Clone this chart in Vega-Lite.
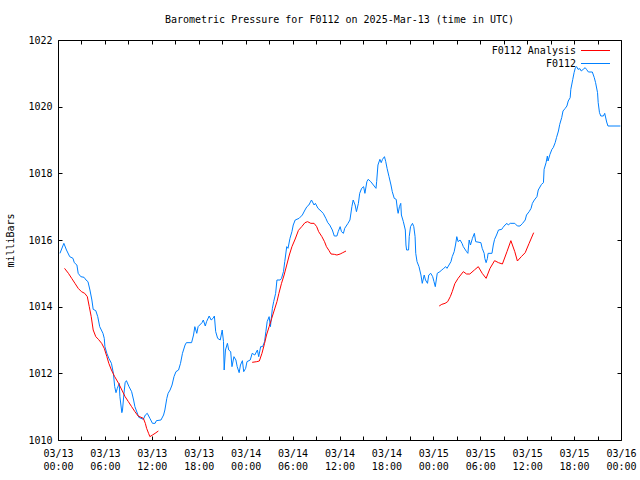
{
  "$schema": "https://vega.github.io/schema/vega-lite/v6.json",
  "width": 563,
  "height": 400,
  "autosize": {"type": "none"},
  "padding": {"left": 58, "top": 40, "right": 19, "bottom": 40},
  "background": "white",
  "title": {"text": "Barometric Pressure for F0112 on 2025-Mar-13 (time in UTC)", "font": "DejaVu Sans Mono", "fontSize": 10, "fontWeight": "normal", "color": "black", "anchor": "middle", "offset": 10},
  "datasets": {
    "station": [
      {"t":"2025-03-13T00:15Z","p":1015.60,"s":"F0112"},{"t":"2025-03-13T00:45Z","p":1015.90,"s":"F0112"},{"t":"2025-03-13T01:05Z","p":1015.70,"s":"F0112"},{"t":"2025-03-13T01:30Z","p":1015.50,"s":"F0112"},{"t":"2025-03-13T01:55Z","p":1015.45,"s":"F0112"},{"t":"2025-03-13T02:05Z","p":1015.32,"s":"F0112"},{"t":"2025-03-13T02:25Z","p":1015.25,"s":"F0112"},{"t":"2025-03-13T02:35Z","p":1015.00,"s":"F0112"},{"t":"2025-03-13T02:55Z","p":1014.90,"s":"F0112"},{"t":"2025-03-13T03:20Z","p":1014.88,"s":"F0112"},{"t":"2025-03-13T03:35Z","p":1014.80,"s":"F0112"},{"t":"2025-03-13T03:50Z","p":1014.75,"s":"F0112"},{"t":"2025-03-13T04:05Z","p":1014.50,"s":"F0112"},{"t":"2025-03-13T04:20Z","p":1014.20,"s":"F0112"},{"t":"2025-03-13T04:30Z","p":1013.92,"s":"F0112"},{"t":"2025-03-13T04:50Z","p":1013.88,"s":"F0112"},{"t":"2025-03-13T05:05Z","p":1013.70,"s":"F0112"},{"t":"2025-03-13T05:20Z","p":1013.40,"s":"F0112"},{"t":"2025-03-13T05:45Z","p":1013.20,"s":"F0112"},{"t":"2025-03-13T05:55Z","p":1013.05,"s":"F0112"},{"t":"2025-03-13T06:00Z","p":1012.80,"s":"F0112"},{"t":"2025-03-13T06:15Z","p":1012.60,"s":"F0112"},{"t":"2025-03-13T06:30Z","p":1012.45,"s":"F0112"},{"t":"2025-03-13T06:50Z","p":1012.30,"s":"F0112"},{"t":"2025-03-13T07:05Z","p":1012.00,"s":"F0112"},{"t":"2025-03-13T07:15Z","p":1011.60,"s":"F0112"},{"t":"2025-03-13T07:25Z","p":1011.42,"s":"F0112"},{"t":"2025-03-13T07:35Z","p":1011.55,"s":"F0112"},{"t":"2025-03-13T07:50Z","p":1011.70,"s":"F0112"},{"t":"2025-03-13T07:55Z","p":1011.30,"s":"F0112"},{"t":"2025-03-13T08:10Z","p":1010.82,"s":"F0112"},{"t":"2025-03-13T08:15Z","p":1010.90,"s":"F0112"},{"t":"2025-03-13T08:25Z","p":1011.35,"s":"F0112"},{"t":"2025-03-13T08:35Z","p":1011.72,"s":"F0112"},{"t":"2025-03-13T08:45Z","p":1011.78,"s":"F0112"},{"t":"2025-03-13T09:05Z","p":1011.60,"s":"F0112"},{"t":"2025-03-13T09:25Z","p":1011.45,"s":"F0112"},{"t":"2025-03-13T09:40Z","p":1011.20,"s":"F0112"},{"t":"2025-03-13T09:50Z","p":1011.00,"s":"F0112"},{"t":"2025-03-13T10:20Z","p":1010.68,"s":"F0112"},{"t":"2025-03-13T10:55Z","p":1010.62,"s":"F0112"},{"t":"2025-03-13T11:10Z","p":1010.75,"s":"F0112"},{"t":"2025-03-13T11:25Z","p":1010.80,"s":"F0112"},{"t":"2025-03-13T11:45Z","p":1010.65,"s":"F0112"},{"t":"2025-03-13T12:05Z","p":1010.50,"s":"F0112"},{"t":"2025-03-13T12:25Z","p":1010.50,"s":"F0112"},{"t":"2025-03-13T12:35Z","p":1010.58,"s":"F0112"},{"t":"2025-03-13T13:10Z","p":1010.60,"s":"F0112"},{"t":"2025-03-13T13:30Z","p":1010.75,"s":"F0112"},{"t":"2025-03-13T13:40Z","p":1010.90,"s":"F0112"},{"t":"2025-03-13T13:55Z","p":1011.25,"s":"F0112"},{"t":"2025-03-13T14:05Z","p":1011.40,"s":"F0112"},{"t":"2025-03-13T14:20Z","p":1011.50,"s":"F0112"},{"t":"2025-03-13T14:35Z","p":1011.65,"s":"F0112"},{"t":"2025-03-13T14:50Z","p":1011.90,"s":"F0112"},{"t":"2025-03-13T15:05Z","p":1012.05,"s":"F0112"},{"t":"2025-03-13T15:25Z","p":1012.10,"s":"F0112"},{"t":"2025-03-13T15:40Z","p":1012.30,"s":"F0112"},{"t":"2025-03-13T15:55Z","p":1012.60,"s":"F0112"},{"t":"2025-03-13T16:15Z","p":1012.85,"s":"F0112"},{"t":"2025-03-13T16:25Z","p":1012.92,"s":"F0112"},{"t":"2025-03-13T17:05Z","p":1012.92,"s":"F0112"},{"t":"2025-03-13T17:20Z","p":1013.15,"s":"F0112"},{"t":"2025-03-13T17:30Z","p":1013.40,"s":"F0112"},{"t":"2025-03-13T17:45Z","p":1013.20,"s":"F0112"},{"t":"2025-03-13T17:55Z","p":1013.40,"s":"F0112"},{"t":"2025-03-13T18:25Z","p":1013.52,"s":"F0112"},{"t":"2025-03-13T18:35Z","p":1013.60,"s":"F0112"},{"t":"2025-03-13T18:50Z","p":1013.42,"s":"F0112"},{"t":"2025-03-13T19:00Z","p":1013.55,"s":"F0112"},{"t":"2025-03-13T19:20Z","p":1013.72,"s":"F0112"},{"t":"2025-03-13T19:35Z","p":1013.60,"s":"F0112"},{"t":"2025-03-13T19:50Z","p":1013.65,"s":"F0112"},{"t":"2025-03-13T20:00Z","p":1013.72,"s":"F0112"},{"t":"2025-03-13T20:10Z","p":1013.25,"s":"F0112"},{"t":"2025-03-13T20:25Z","p":1013.05,"s":"F0112"},{"t":"2025-03-13T20:45Z","p":1013.00,"s":"F0112"},{"t":"2025-03-13T21:00Z","p":1013.30,"s":"F0112"},{"t":"2025-03-13T21:10Z","p":1012.95,"s":"F0112"},{"t":"2025-03-13T21:15Z","p":1012.10,"s":"F0112"},{"t":"2025-03-13T21:25Z","p":1012.70,"s":"F0112"},{"t":"2025-03-13T21:40Z","p":1012.90,"s":"F0112"},{"t":"2025-03-13T21:50Z","p":1012.70,"s":"F0112"},{"t":"2025-03-13T22:05Z","p":1012.65,"s":"F0112"},{"t":"2025-03-13T22:15Z","p":1012.20,"s":"F0112"},{"t":"2025-03-13T22:30Z","p":1012.50,"s":"F0112"},{"t":"2025-03-13T22:45Z","p":1012.40,"s":"F0112"},{"t":"2025-03-13T22:55Z","p":1012.20,"s":"F0112"},{"t":"2025-03-13T23:10Z","p":1012.02,"s":"F0112"},{"t":"2025-03-13T23:20Z","p":1012.25,"s":"F0112"},{"t":"2025-03-13T23:35Z","p":1012.38,"s":"F0112"},{"t":"2025-03-13T23:45Z","p":1012.05,"s":"F0112"},
      {"t":"2025-03-14T00:00Z","p":1012.15,"s":"F0112"},{"t":"2025-03-14T00:10Z","p":1012.35,"s":"F0112"},{"t":"2025-03-14T00:35Z","p":1012.40,"s":"F0112"},{"t":"2025-03-14T00:50Z","p":1012.60,"s":"F0112"},{"t":"2025-03-14T01:10Z","p":1012.55,"s":"F0112"},{"t":"2025-03-14T01:30Z","p":1012.70,"s":"F0112"},{"t":"2025-03-14T01:40Z","p":1012.50,"s":"F0112"},{"t":"2025-03-14T01:55Z","p":1012.80,"s":"F0112"},{"t":"2025-03-14T02:10Z","p":1012.80,"s":"F0112"},{"t":"2025-03-14T02:25Z","p":1012.95,"s":"F0112"},{"t":"2025-03-14T02:35Z","p":1013.25,"s":"F0112"},{"t":"2025-03-14T02:45Z","p":1013.55,"s":"F0112"},{"t":"2025-03-14T03:00Z","p":1013.70,"s":"F0112"},{"t":"2025-03-14T03:10Z","p":1013.40,"s":"F0112"},{"t":"2025-03-14T03:25Z","p":1013.95,"s":"F0112"},{"t":"2025-03-14T03:35Z","p":1014.15,"s":"F0112"},{"t":"2025-03-14T03:50Z","p":1014.40,"s":"F0112"},{"t":"2025-03-14T04:00Z","p":1014.80,"s":"F0112"},{"t":"2025-03-14T04:25Z","p":1014.80,"s":"F0112"},{"t":"2025-03-14T04:35Z","p":1014.85,"s":"F0112"},{"t":"2025-03-14T04:50Z","p":1015.05,"s":"F0112"},{"t":"2025-03-14T05:00Z","p":1015.35,"s":"F0112"},{"t":"2025-03-14T05:15Z","p":1015.80,"s":"F0112"},{"t":"2025-03-14T05:25Z","p":1015.75,"s":"F0112"},{"t":"2025-03-14T05:40Z","p":1016.05,"s":"F0112"},{"t":"2025-03-14T05:55Z","p":1016.25,"s":"F0112"},{"t":"2025-03-14T06:05Z","p":1016.45,"s":"F0112"},{"t":"2025-03-14T06:20Z","p":1016.60,"s":"F0112"},{"t":"2025-03-14T06:50Z","p":1016.65,"s":"F0112"},{"t":"2025-03-14T07:15Z","p":1016.75,"s":"F0112"},{"t":"2025-03-14T07:35Z","p":1016.90,"s":"F0112"},{"t":"2025-03-14T07:50Z","p":1017.00,"s":"F0112"},{"t":"2025-03-14T08:05Z","p":1017.05,"s":"F0112"},{"t":"2025-03-14T08:25Z","p":1017.20,"s":"F0112"},{"t":"2025-03-14T08:45Z","p":1017.05,"s":"F0112"},{"t":"2025-03-14T08:55Z","p":1017.10,"s":"F0112"},{"t":"2025-03-14T09:15Z","p":1016.95,"s":"F0112"},{"t":"2025-03-14T09:30Z","p":1016.90,"s":"F0112"},{"t":"2025-03-14T09:55Z","p":1016.80,"s":"F0112"},{"t":"2025-03-14T10:15Z","p":1016.65,"s":"F0112"},{"t":"2025-03-14T10:30Z","p":1016.52,"s":"F0112"},{"t":"2025-03-14T10:45Z","p":1016.45,"s":"F0112"},{"t":"2025-03-14T11:05Z","p":1016.30,"s":"F0112"},{"t":"2025-03-14T11:20Z","p":1016.12,"s":"F0112"},{"t":"2025-03-14T11:40Z","p":1016.12,"s":"F0112"},{"t":"2025-03-14T11:50Z","p":1016.25,"s":"F0112"},{"t":"2025-03-14T12:05Z","p":1016.40,"s":"F0112"},{"t":"2025-03-14T12:15Z","p":1016.25,"s":"F0112"},{"t":"2025-03-14T12:30Z","p":1016.20,"s":"F0112"},{"t":"2025-03-14T12:40Z","p":1016.35,"s":"F0112"},{"t":"2025-03-14T13:05Z","p":1016.50,"s":"F0112"},{"t":"2025-03-14T13:20Z","p":1016.60,"s":"F0112"},{"t":"2025-03-14T13:35Z","p":1017.00,"s":"F0112"},{"t":"2025-03-14T13:45Z","p":1017.20,"s":"F0112"},{"t":"2025-03-14T14:00Z","p":1017.05,"s":"F0112"},{"t":"2025-03-14T14:10Z","p":1016.85,"s":"F0112"},{"t":"2025-03-14T14:25Z","p":1017.10,"s":"F0112"},{"t":"2025-03-14T14:35Z","p":1017.40,"s":"F0112"},{"t":"2025-03-14T14:50Z","p":1017.55,"s":"F0112"},{"t":"2025-03-14T15:05Z","p":1017.60,"s":"F0112"},{"t":"2025-03-14T15:15Z","p":1017.40,"s":"F0112"},{"t":"2025-03-14T15:30Z","p":1017.75,"s":"F0112"},{"t":"2025-03-14T15:40Z","p":1017.82,"s":"F0112"},{"t":"2025-03-14T16:00Z","p":1017.75,"s":"F0112"},{"t":"2025-03-14T16:20Z","p":1017.65,"s":"F0112"},{"t":"2025-03-14T16:40Z","p":1017.55,"s":"F0112"},{"t":"2025-03-14T16:45Z","p":1017.75,"s":"F0112"},{"t":"2025-03-14T16:55Z","p":1018.25,"s":"F0112"},{"t":"2025-03-14T17:10Z","p":1018.42,"s":"F0112"},{"t":"2025-03-14T17:20Z","p":1018.32,"s":"F0112"},{"t":"2025-03-14T17:30Z","p":1018.42,"s":"F0112"},{"t":"2025-03-14T17:45Z","p":1018.50,"s":"F0112"},{"t":"2025-03-14T17:55Z","p":1018.35,"s":"F0112"},{"t":"2025-03-14T18:05Z","p":1018.15,"s":"F0112"},{"t":"2025-03-14T18:20Z","p":1017.90,"s":"F0112"},{"t":"2025-03-14T18:35Z","p":1017.65,"s":"F0112"},{"t":"2025-03-14T18:45Z","p":1017.45,"s":"F0112"},{"t":"2025-03-14T19:00Z","p":1017.25,"s":"F0112"},{"t":"2025-03-14T19:15Z","p":1017.22,"s":"F0112"},{"t":"2025-03-14T19:25Z","p":1016.90,"s":"F0112"},{"t":"2025-03-14T19:30Z","p":1016.80,"s":"F0112"},{"t":"2025-03-14T19:40Z","p":1017.00,"s":"F0112"},{"t":"2025-03-14T19:50Z","p":1017.10,"s":"F0112"},{"t":"2025-03-14T19:55Z","p":1016.75,"s":"F0112"},{"t":"2025-03-14T20:10Z","p":1016.55,"s":"F0112"},{"t":"2025-03-14T20:25Z","p":1016.30,"s":"F0112"},{"t":"2025-03-14T20:30Z","p":1015.85,"s":"F0112"},{"t":"2025-03-14T20:35Z","p":1015.70,"s":"F0112"},{"t":"2025-03-14T20:50Z","p":1015.70,"s":"F0112"},{"t":"2025-03-14T20:55Z","p":1016.10,"s":"F0112"},{"t":"2025-03-14T21:05Z","p":1016.40,"s":"F0112"},{"t":"2025-03-14T21:20Z","p":1016.50,"s":"F0112"},{"t":"2025-03-14T21:30Z","p":1016.40,"s":"F0112"},{"t":"2025-03-14T21:40Z","p":1016.10,"s":"F0112"},{"t":"2025-03-14T21:45Z","p":1015.60,"s":"F0112"},{"t":"2025-03-14T21:55Z","p":1015.35,"s":"F0112"},{"t":"2025-03-14T22:10Z","p":1015.20,"s":"F0112"},{"t":"2025-03-14T22:25Z","p":1014.95,"s":"F0112"},{"t":"2025-03-14T22:35Z","p":1014.70,"s":"F0112"},{"t":"2025-03-14T22:50Z","p":1014.95,"s":"F0112"},{"t":"2025-03-14T23:00Z","p":1014.80,"s":"F0112"},{"t":"2025-03-14T23:15Z","p":1014.70,"s":"F0112"},{"t":"2025-03-14T23:25Z","p":1014.95,"s":"F0112"},{"t":"2025-03-14T23:40Z","p":1015.00,"s":"F0112"},{"t":"2025-03-14T23:55Z","p":1014.90,"s":"F0112"},
      {"t":"2025-03-15T00:05Z","p":1014.75,"s":"F0112"},{"t":"2025-03-15T00:15Z","p":1014.60,"s":"F0112"},{"t":"2025-03-15T00:30Z","p":1015.00,"s":"F0112"},{"t":"2025-03-15T00:50Z","p":1015.05,"s":"F0112"},{"t":"2025-03-15T01:05Z","p":1015.10,"s":"F0112"},{"t":"2025-03-15T01:20Z","p":1015.15,"s":"F0112"},{"t":"2025-03-15T01:35Z","p":1015.20,"s":"F0112"},{"t":"2025-03-15T01:45Z","p":1015.15,"s":"F0112"},{"t":"2025-03-15T02:00Z","p":1015.25,"s":"F0112"},{"t":"2025-03-15T02:15Z","p":1015.35,"s":"F0112"},{"t":"2025-03-15T02:25Z","p":1015.50,"s":"F0112"},{"t":"2025-03-15T02:40Z","p":1015.65,"s":"F0112"},{"t":"2025-03-15T02:50Z","p":1015.85,"s":"F0112"},{"t":"2025-03-15T03:00Z","p":1016.10,"s":"F0112"},{"t":"2025-03-15T03:10Z","p":1015.95,"s":"F0112"},{"t":"2025-03-15T03:25Z","p":1016.00,"s":"F0112"},{"t":"2025-03-15T03:40Z","p":1015.90,"s":"F0112"},{"t":"2025-03-15T03:50Z","p":1015.80,"s":"F0112"},{"t":"2025-03-15T04:15Z","p":1015.65,"s":"F0112"},{"t":"2025-03-15T04:25Z","p":1015.60,"s":"F0112"},{"t":"2025-03-15T04:35Z","p":1016.00,"s":"F0112"},{"t":"2025-03-15T04:45Z","p":1015.85,"s":"F0112"},{"t":"2025-03-15T05:00Z","p":1016.05,"s":"F0112"},{"t":"2025-03-15T05:15Z","p":1016.20,"s":"F0112"},{"t":"2025-03-15T05:25Z","p":1015.95,"s":"F0112"},{"t":"2025-03-15T06:05Z","p":1015.92,"s":"F0112"},{"t":"2025-03-15T06:15Z","p":1015.75,"s":"F0112"},{"t":"2025-03-15T06:30Z","p":1015.60,"s":"F0112"},{"t":"2025-03-15T06:35Z","p":1015.45,"s":"F0112"},{"t":"2025-03-15T06:45Z","p":1015.32,"s":"F0112"},{"t":"2025-03-15T06:55Z","p":1015.45,"s":"F0112"},{"t":"2025-03-15T07:00Z","p":1015.60,"s":"F0112"},{"t":"2025-03-15T07:30Z","p":1015.60,"s":"F0112"},{"t":"2025-03-15T07:40Z","p":1015.85,"s":"F0112"},{"t":"2025-03-15T07:50Z","p":1016.02,"s":"F0112"},{"t":"2025-03-15T08:05Z","p":1016.15,"s":"F0112"},{"t":"2025-03-15T08:20Z","p":1016.30,"s":"F0112"},{"t":"2025-03-15T08:45Z","p":1016.32,"s":"F0112"},{"t":"2025-03-15T08:55Z","p":1016.38,"s":"F0112"},{"t":"2025-03-15T09:10Z","p":1016.45,"s":"F0112"},{"t":"2025-03-15T09:25Z","p":1016.50,"s":"F0112"},{"t":"2025-03-15T09:35Z","p":1016.45,"s":"F0112"},{"t":"2025-03-15T09:50Z","p":1016.50,"s":"F0112"},{"t":"2025-03-15T10:25Z","p":1016.50,"s":"F0112"},{"t":"2025-03-15T10:45Z","p":1016.42,"s":"F0112"},{"t":"2025-03-15T11:05Z","p":1016.42,"s":"F0112"},{"t":"2025-03-15T11:25Z","p":1016.50,"s":"F0112"},{"t":"2025-03-15T11:45Z","p":1016.60,"s":"F0112"},{"t":"2025-03-15T11:55Z","p":1016.75,"s":"F0112"},{"t":"2025-03-15T12:15Z","p":1016.85,"s":"F0112"},{"t":"2025-03-15T12:30Z","p":1016.95,"s":"F0112"},{"t":"2025-03-15T12:40Z","p":1017.10,"s":"F0112"},{"t":"2025-03-15T12:55Z","p":1017.20,"s":"F0112"},{"t":"2025-03-15T13:15Z","p":1017.30,"s":"F0112"},{"t":"2025-03-15T13:25Z","p":1017.50,"s":"F0112"},{"t":"2025-03-15T13:50Z","p":1017.67,"s":"F0112"},{"t":"2025-03-15T14:05Z","p":1017.72,"s":"F0112"},{"t":"2025-03-15T14:10Z","p":1018.12,"s":"F0112"},{"t":"2025-03-15T14:25Z","p":1018.32,"s":"F0112"},{"t":"2025-03-15T14:35Z","p":1018.52,"s":"F0112"},{"t":"2025-03-15T14:40Z","p":1018.37,"s":"F0112"},{"t":"2025-03-15T14:55Z","p":1018.57,"s":"F0112"},{"t":"2025-03-15T15:10Z","p":1018.72,"s":"F0112"},{"t":"2025-03-15T15:20Z","p":1018.77,"s":"F0112"},{"t":"2025-03-15T15:35Z","p":1018.92,"s":"F0112"},{"t":"2025-03-15T15:45Z","p":1019.07,"s":"F0112"},{"t":"2025-03-15T16:00Z","p":1019.27,"s":"F0112"},{"t":"2025-03-15T16:10Z","p":1019.47,"s":"F0112"},{"t":"2025-03-15T16:25Z","p":1019.67,"s":"F0112"},{"t":"2025-03-15T16:35Z","p":1019.87,"s":"F0112"},{"t":"2025-03-15T16:50Z","p":1019.94,"s":"F0112"},{"t":"2025-03-15T17:05Z","p":1020.02,"s":"F0112"},{"t":"2025-03-15T17:15Z","p":1020.17,"s":"F0112"},{"t":"2025-03-15T17:30Z","p":1020.27,"s":"F0112"},{"t":"2025-03-15T17:35Z","p":1020.52,"s":"F0112"},{"t":"2025-03-15T17:50Z","p":1020.82,"s":"F0112"},{"t":"2025-03-15T18:00Z","p":1021.02,"s":"F0112"},{"t":"2025-03-15T18:10Z","p":1021.17,"s":"F0112"},{"t":"2025-03-15T18:20Z","p":1021.20,"s":"F0112"},{"t":"2025-03-15T18:30Z","p":1021.12,"s":"F0112"},{"t":"2025-03-15T18:45Z","p":1021.14,"s":"F0112"},{"t":"2025-03-15T18:55Z","p":1021.07,"s":"F0112"},{"t":"2025-03-15T19:10Z","p":1021.12,"s":"F0112"},{"t":"2025-03-15T19:25Z","p":1021.17,"s":"F0112"},{"t":"2025-03-15T19:35Z","p":1021.12,"s":"F0112"},{"t":"2025-03-15T19:50Z","p":1021.04,"s":"F0112"},{"t":"2025-03-15T20:20Z","p":1021.04,"s":"F0112"},{"t":"2025-03-15T20:35Z","p":1020.87,"s":"F0112"},{"t":"2025-03-15T20:45Z","p":1020.72,"s":"F0112"},{"t":"2025-03-15T21:00Z","p":1020.42,"s":"F0112"},{"t":"2025-03-15T21:05Z","p":1020.12,"s":"F0112"},{"t":"2025-03-15T21:15Z","p":1019.82,"s":"F0112"},{"t":"2025-03-15T21:25Z","p":1019.72,"s":"F0112"},{"t":"2025-03-15T21:45Z","p":1019.72,"s":"F0112"},{"t":"2025-03-15T21:55Z","p":1019.80,"s":"F0112"},{"t":"2025-03-15T22:10Z","p":1019.54,"s":"F0112"},{"t":"2025-03-15T22:20Z","p":1019.42,"s":"F0112"},{"t":"2025-03-15T23:55Z","p":1019.42,"s":"F0112"}
    ],
    "analysis": [
      {"t":"2025-03-13T00:50Z","p":1015.15,"s":"F0112 Analysis","g":"a1"},{"t":"2025-03-13T01:20Z","p":1015.00,"s":"F0112 Analysis","g":"a1"},{"t":"2025-03-13T01:45Z","p":1014.85,"s":"F0112 Analysis","g":"a1"},{"t":"2025-03-13T02:10Z","p":1014.70,"s":"F0112 Analysis","g":"a1"},{"t":"2025-03-13T02:35Z","p":1014.55,"s":"F0112 Analysis","g":"a1"},{"t":"2025-03-13T03:00Z","p":1014.45,"s":"F0112 Analysis","g":"a1"},{"t":"2025-03-13T03:25Z","p":1014.40,"s":"F0112 Analysis","g":"a1"},{"t":"2025-03-13T03:45Z","p":1014.30,"s":"F0112 Analysis","g":"a1"},{"t":"2025-03-13T04:00Z","p":1014.00,"s":"F0112 Analysis","g":"a1"},{"t":"2025-03-13T04:15Z","p":1013.70,"s":"F0112 Analysis","g":"a1"},{"t":"2025-03-13T04:30Z","p":1013.30,"s":"F0112 Analysis","g":"a1"},{"t":"2025-03-13T04:50Z","p":1013.10,"s":"F0112 Analysis","g":"a1"},{"t":"2025-03-13T05:10Z","p":1013.02,"s":"F0112 Analysis","g":"a1"},{"t":"2025-03-13T05:35Z","p":1012.90,"s":"F0112 Analysis","g":"a1"},{"t":"2025-03-13T05:55Z","p":1012.75,"s":"F0112 Analysis","g":"a1"},{"t":"2025-03-13T06:15Z","p":1012.50,"s":"F0112 Analysis","g":"a1"},{"t":"2025-03-13T06:30Z","p":1012.30,"s":"F0112 Analysis","g":"a1"},{"t":"2025-03-13T06:50Z","p":1012.10,"s":"F0112 Analysis","g":"a1"},{"t":"2025-03-13T07:15Z","p":1011.90,"s":"F0112 Analysis","g":"a1"},{"t":"2025-03-13T07:45Z","p":1011.70,"s":"F0112 Analysis","g":"a1"},{"t":"2025-03-13T08:10Z","p":1011.50,"s":"F0112 Analysis","g":"a1"},{"t":"2025-03-13T08:35Z","p":1011.30,"s":"F0112 Analysis","g":"a1"},{"t":"2025-03-13T09:00Z","p":1011.15,"s":"F0112 Analysis","g":"a1"},{"t":"2025-03-13T09:25Z","p":1011.00,"s":"F0112 Analysis","g":"a1"},{"t":"2025-03-13T09:50Z","p":1010.85,"s":"F0112 Analysis","g":"a1"},{"t":"2025-03-13T10:15Z","p":1010.72,"s":"F0112 Analysis","g":"a1"},{"t":"2025-03-13T10:55Z","p":1010.65,"s":"F0112 Analysis","g":"a1"},{"t":"2025-03-13T11:10Z","p":1010.50,"s":"F0112 Analysis","g":"a1"},{"t":"2025-03-13T11:20Z","p":1010.35,"s":"F0112 Analysis","g":"a1"},{"t":"2025-03-13T11:35Z","p":1010.20,"s":"F0112 Analysis","g":"a1"},{"t":"2025-03-13T11:45Z","p":1010.10,"s":"F0112 Analysis","g":"a1"},{"t":"2025-03-13T12:05Z","p":1010.15,"s":"F0112 Analysis","g":"a1"},{"t":"2025-03-13T12:25Z","p":1010.20,"s":"F0112 Analysis","g":"a1"},{"t":"2025-03-13T12:50Z","p":1010.27,"s":"F0112 Analysis","g":"a1"},
      {"t":"2025-03-14T00:50Z","p":1012.33,"s":"F0112 Analysis","g":"a2"},{"t":"2025-03-14T01:25Z","p":1012.35,"s":"F0112 Analysis","g":"a2"},{"t":"2025-03-14T01:45Z","p":1012.37,"s":"F0112 Analysis","g":"a2"},{"t":"2025-03-14T02:05Z","p":1012.60,"s":"F0112 Analysis","g":"a2"},{"t":"2025-03-14T02:25Z","p":1012.90,"s":"F0112 Analysis","g":"a2"},{"t":"2025-03-14T02:40Z","p":1013.15,"s":"F0112 Analysis","g":"a2"},{"t":"2025-03-14T03:00Z","p":1013.40,"s":"F0112 Analysis","g":"a2"},{"t":"2025-03-14T03:20Z","p":1013.65,"s":"F0112 Analysis","g":"a2"},{"t":"2025-03-14T03:40Z","p":1013.90,"s":"F0112 Analysis","g":"a2"},{"t":"2025-03-14T04:00Z","p":1014.15,"s":"F0112 Analysis","g":"a2"},{"t":"2025-03-14T04:15Z","p":1014.40,"s":"F0112 Analysis","g":"a2"},{"t":"2025-03-14T04:35Z","p":1014.70,"s":"F0112 Analysis","g":"a2"},{"t":"2025-03-14T04:55Z","p":1014.95,"s":"F0112 Analysis","g":"a2"},{"t":"2025-03-14T05:15Z","p":1015.25,"s":"F0112 Analysis","g":"a2"},{"t":"2025-03-14T05:35Z","p":1015.55,"s":"F0112 Analysis","g":"a2"},{"t":"2025-03-14T05:55Z","p":1015.80,"s":"F0112 Analysis","g":"a2"},{"t":"2025-03-14T06:20Z","p":1016.03,"s":"F0112 Analysis","g":"a2"},{"t":"2025-03-14T06:45Z","p":1016.29,"s":"F0112 Analysis","g":"a2"},{"t":"2025-03-14T07:10Z","p":1016.40,"s":"F0112 Analysis","g":"a2"},{"t":"2025-03-14T07:35Z","p":1016.52,"s":"F0112 Analysis","g":"a2"},{"t":"2025-03-14T07:55Z","p":1016.55,"s":"F0112 Analysis","g":"a2"},{"t":"2025-03-14T08:20Z","p":1016.50,"s":"F0112 Analysis","g":"a2"},{"t":"2025-03-14T08:45Z","p":1016.50,"s":"F0112 Analysis","g":"a2"},{"t":"2025-03-14T09:05Z","p":1016.40,"s":"F0112 Analysis","g":"a2"},{"t":"2025-03-14T09:20Z","p":1016.25,"s":"F0112 Analysis","g":"a2"},{"t":"2025-03-14T09:45Z","p":1016.10,"s":"F0112 Analysis","g":"a2"},{"t":"2025-03-14T10:05Z","p":1015.95,"s":"F0112 Analysis","g":"a2"},{"t":"2025-03-14T10:20Z","p":1015.80,"s":"F0112 Analysis","g":"a2"},{"t":"2025-03-14T10:40Z","p":1015.68,"s":"F0112 Analysis","g":"a2"},{"t":"2025-03-14T10:55Z","p":1015.58,"s":"F0112 Analysis","g":"a2"},{"t":"2025-03-14T11:20Z","p":1015.57,"s":"F0112 Analysis","g":"a2"},{"t":"2025-03-14T11:40Z","p":1015.55,"s":"F0112 Analysis","g":"a2"},{"t":"2025-03-14T12:05Z","p":1015.58,"s":"F0112 Analysis","g":"a2"},{"t":"2025-03-14T12:25Z","p":1015.62,"s":"F0112 Analysis","g":"a2"},{"t":"2025-03-14T12:50Z","p":1015.67,"s":"F0112 Analysis","g":"a2"},
      {"t":"2025-03-15T00:45Z","p":1014.02,"s":"F0112 Analysis","g":"a3"},{"t":"2025-03-15T01:05Z","p":1014.07,"s":"F0112 Analysis","g":"a3"},{"t":"2025-03-15T01:30Z","p":1014.10,"s":"F0112 Analysis","g":"a3"},{"t":"2025-03-15T01:50Z","p":1014.15,"s":"F0112 Analysis","g":"a3"},{"t":"2025-03-15T02:10Z","p":1014.30,"s":"F0112 Analysis","g":"a3"},{"t":"2025-03-15T02:25Z","p":1014.45,"s":"F0112 Analysis","g":"a3"},{"t":"2025-03-15T02:45Z","p":1014.69,"s":"F0112 Analysis","g":"a3"},{"t":"2025-03-15T03:10Z","p":1014.85,"s":"F0112 Analysis","g":"a3"},{"t":"2025-03-15T03:50Z","p":1015.05,"s":"F0112 Analysis","g":"a3"},{"t":"2025-03-15T04:15Z","p":1014.98,"s":"F0112 Analysis","g":"a3"},{"t":"2025-03-15T04:40Z","p":1014.98,"s":"F0112 Analysis","g":"a3"},{"t":"2025-03-15T05:15Z","p":1015.10,"s":"F0112 Analysis","g":"a3"},{"t":"2025-03-15T05:45Z","p":1015.20,"s":"F0112 Analysis","g":"a3"},{"t":"2025-03-15T06:15Z","p":1015.00,"s":"F0112 Analysis","g":"a3"},{"t":"2025-03-15T06:45Z","p":1014.85,"s":"F0112 Analysis","g":"a3"},{"t":"2025-03-15T07:15Z","p":1015.15,"s":"F0112 Analysis","g":"a3"},{"t":"2025-03-15T07:50Z","p":1015.38,"s":"F0112 Analysis","g":"a3"},{"t":"2025-03-15T08:20Z","p":1015.32,"s":"F0112 Analysis","g":"a3"},{"t":"2025-03-15T08:50Z","p":1015.28,"s":"F0112 Analysis","g":"a3"},{"t":"2025-03-15T09:25Z","p":1015.65,"s":"F0112 Analysis","g":"a3"},{"t":"2025-03-15T09:55Z","p":1015.98,"s":"F0112 Analysis","g":"a3"},{"t":"2025-03-15T10:25Z","p":1015.65,"s":"F0112 Analysis","g":"a3"},{"t":"2025-03-15T10:45Z","p":1015.37,"s":"F0112 Analysis","g":"a3"},{"t":"2025-03-15T11:15Z","p":1015.50,"s":"F0112 Analysis","g":"a3"},{"t":"2025-03-15T11:45Z","p":1015.62,"s":"F0112 Analysis","g":"a3"},{"t":"2025-03-15T12:15Z","p":1015.90,"s":"F0112 Analysis","g":"a3"},{"t":"2025-03-15T12:50Z","p":1016.22,"s":"F0112 Analysis","g":"a3"}
    ]
  },
  "layer": [
    {
      "data": {"name": "station"},
      "mark": {"type": "line", "strokeWidth": 1},
      "encoding": {
        "x": {
          "field": "t", "type": "temporal",
          "scale": {"type": "utc", "domain": [{"year": 2025, "month": 3, "date": 13, "hours": 0, "utc": true}, {"year": 2025, "month": 3, "date": 16, "hours": 0, "utc": true}], "nice": false},
          "axis": {
            "orient": "bottom", "title": null, "domain": false, "offset": -4, "tickSize": 4,
            "values": [
              {"year": 2025, "month": 3, "date": 13, "hours": 0, "utc": true}, {"year": 2025, "month": 3, "date": 13, "hours": 3, "utc": true}, {"year": 2025, "month": 3, "date": 13, "hours": 6, "utc": true}, {"year": 2025, "month": 3, "date": 13, "hours": 9, "utc": true}, {"year": 2025, "month": 3, "date": 13, "hours": 12, "utc": true}, {"year": 2025, "month": 3, "date": 13, "hours": 15, "utc": true}, {"year": 2025, "month": 3, "date": 13, "hours": 18, "utc": true}, {"year": 2025, "month": 3, "date": 13, "hours": 21, "utc": true},
              {"year": 2025, "month": 3, "date": 14, "hours": 0, "utc": true}, {"year": 2025, "month": 3, "date": 14, "hours": 3, "utc": true}, {"year": 2025, "month": 3, "date": 14, "hours": 6, "utc": true}, {"year": 2025, "month": 3, "date": 14, "hours": 9, "utc": true}, {"year": 2025, "month": 3, "date": 14, "hours": 12, "utc": true}, {"year": 2025, "month": 3, "date": 14, "hours": 15, "utc": true}, {"year": 2025, "month": 3, "date": 14, "hours": 18, "utc": true}, {"year": 2025, "month": 3, "date": 14, "hours": 21, "utc": true},
              {"year": 2025, "month": 3, "date": 15, "hours": 0, "utc": true}, {"year": 2025, "month": 3, "date": 15, "hours": 3, "utc": true}, {"year": 2025, "month": 3, "date": 15, "hours": 6, "utc": true}, {"year": 2025, "month": 3, "date": 15, "hours": 9, "utc": true}, {"year": 2025, "month": 3, "date": 15, "hours": 12, "utc": true}, {"year": 2025, "month": 3, "date": 15, "hours": 15, "utc": true}, {"year": 2025, "month": 3, "date": 15, "hours": 18, "utc": true}, {"year": 2025, "month": 3, "date": 15, "hours": 21, "utc": true},
              {"year": 2025, "month": 3, "date": 16, "hours": 0, "utc": true}
            ],
            "labelExpr": "utchours(datum.value) % 6 === 0 ? [utcFormat(datum.value, '%m/%d'), utcFormat(datum.value, '%H:%M')] : ''",
            "labelPadding": 8, "labelLineHeight": 13, "labelBaseline": "top", "labelFlush": false, "labelOverlap": false
          }
        },
        "y": {
          "field": "p", "type": "quantitative",
          "scale": {"domain": [1010, 1022], "nice": false, "zero": false},
          "axis": {"orient": "left", "title": "milliBars", "format": "d", "domain": false, "offset": -4, "tickSize": 4, "values": [1010, 1012, 1014, 1016, 1018, 1020, 1022], "labelPadding": 6, "titleX": -52, "titleY": 200, "titleAngle": -90, "titleAlign": "center", "titleBaseline": "middle", "labelFlush": false, "labelOverlap": false}
        },
        "color": {
          "field": "s", "type": "nominal",
          "scale": {"domain": ["F0112 Analysis", "F0112"], "range": ["#ff0000", "#0080ff"]},
          "legend": {"orient": "none", "legendX": 532, "legendY": 5, "direction": "vertical", "title": null, "symbolType": "M-2.9,0H2.9", "symbolSize": 100, "symbolStrokeWidth": 1, "symbolFillColor": "transparent", "labelAlign": "right", "labelOffset": -25, "labelFont": "DejaVu Sans Mono", "labelFontSize": 10, "labelColor": "black", "rowPadding": 2, "padding": 0}
        }
      }
    },
    {
      "data": {"name": "analysis"},
      "mark": {"type": "line", "strokeWidth": 1},
      "encoding": {
        "x": {
          "field": "t", "type": "temporal",
          "axis": {
            "orient": "top", "title": null, "labels": false, "domain": false, "offset": -4, "tickSize": 4,
            "values": [
              {"year": 2025, "month": 3, "date": 13, "hours": 0, "utc": true}, {"year": 2025, "month": 3, "date": 13, "hours": 3, "utc": true}, {"year": 2025, "month": 3, "date": 13, "hours": 6, "utc": true}, {"year": 2025, "month": 3, "date": 13, "hours": 9, "utc": true}, {"year": 2025, "month": 3, "date": 13, "hours": 12, "utc": true}, {"year": 2025, "month": 3, "date": 13, "hours": 15, "utc": true}, {"year": 2025, "month": 3, "date": 13, "hours": 18, "utc": true}, {"year": 2025, "month": 3, "date": 13, "hours": 21, "utc": true},
              {"year": 2025, "month": 3, "date": 14, "hours": 0, "utc": true}, {"year": 2025, "month": 3, "date": 14, "hours": 3, "utc": true}, {"year": 2025, "month": 3, "date": 14, "hours": 6, "utc": true}, {"year": 2025, "month": 3, "date": 14, "hours": 9, "utc": true}, {"year": 2025, "month": 3, "date": 14, "hours": 12, "utc": true}, {"year": 2025, "month": 3, "date": 14, "hours": 15, "utc": true}, {"year": 2025, "month": 3, "date": 14, "hours": 18, "utc": true}, {"year": 2025, "month": 3, "date": 14, "hours": 21, "utc": true},
              {"year": 2025, "month": 3, "date": 15, "hours": 0, "utc": true}, {"year": 2025, "month": 3, "date": 15, "hours": 3, "utc": true}, {"year": 2025, "month": 3, "date": 15, "hours": 6, "utc": true}, {"year": 2025, "month": 3, "date": 15, "hours": 9, "utc": true}, {"year": 2025, "month": 3, "date": 15, "hours": 12, "utc": true}, {"year": 2025, "month": 3, "date": 15, "hours": 15, "utc": true}, {"year": 2025, "month": 3, "date": 15, "hours": 18, "utc": true}, {"year": 2025, "month": 3, "date": 15, "hours": 21, "utc": true},
              {"year": 2025, "month": 3, "date": 16, "hours": 0, "utc": true}
            ]
          }
        },
        "y": {
          "field": "p", "type": "quantitative",
          "axis": {"orient": "right", "title": null, "labels": false, "domain": false, "offset": -4, "tickSize": 4, "values": [1010, 1012, 1014, 1016, 1018, 1020, 1022]}
        },
        "color": {"field": "s", "type": "nominal"},
        "detail": {"field": "g"}
      }
    }
  ],
  "resolve": {"axis": {"x": "independent", "y": "independent"}},
  "config": {
    "view": {"stroke": "black", "strokeWidth": 1},
    "axis": {"grid": false, "domainColor": "black", "tickColor": "black", "labelColor": "black", "titleColor": "black", "labelFont": "DejaVu Sans Mono", "labelFontSize": 10, "titleFont": "DejaVu Sans Mono", "titleFontSize": 10, "titleFontWeight": "normal", "domainWidth": 1, "tickWidth": 1}
  }
}
